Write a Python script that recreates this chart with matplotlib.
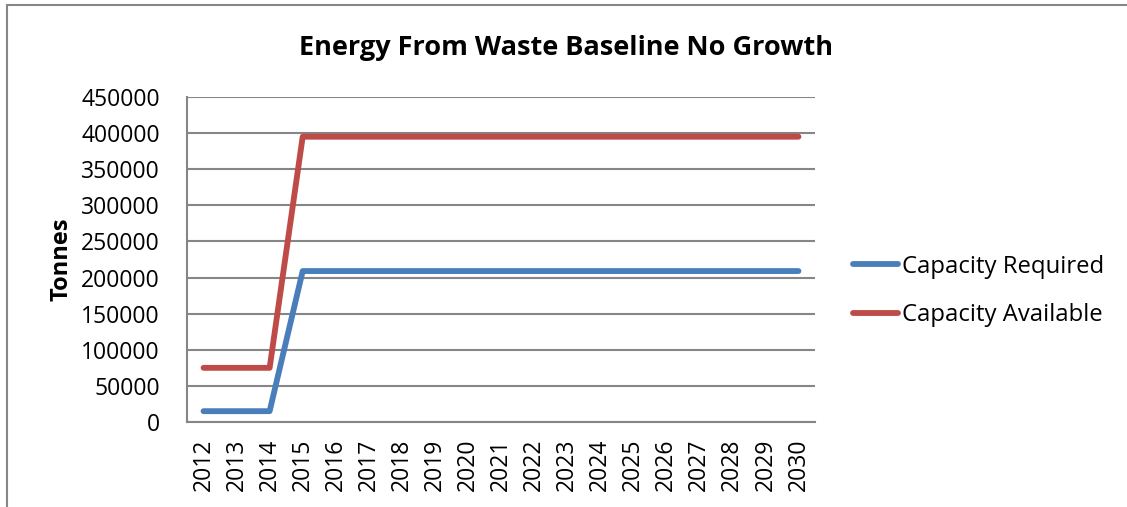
import matplotlib
matplotlib.use("Agg")
import matplotlib.pyplot as plt
from matplotlib.patches import Rectangle
from matplotlib.ticker import MultipleLocator

years = [str(y) for y in range(2012, 2031)]
capacity_required = [15000, 15000, 15000] + [209000] * 16
capacity_available = [75000, 75000, 75000] + [395000] * 16

title = "Energy From Waste Baseline No Growth"
y_label = "Tonnes"
series_names = ["Capacity Required", "Capacity Available"]
colors = ["#4a7ebb", "#be4b48"]

plt.rcParams["font.family"] = ["Open Sans", "DejaVu Sans"]

W, H, DPI = 1127, 507, 100
fig = plt.figure(figsize=(W / DPI, H / DPI), dpi=DPI)

# chart-area frame (runs off the right and bottom edges)
fig.patches.append(Rectangle((7 / W, -0.1), 1.2, 1 - 4.5 / H + 0.1,
                             transform=fig.transFigure, fill=False,
                             edgecolor="#868686", linewidth=1.5))

left, right = 187 / W, 815 / W
bottom, top = 1 - 422 / H, 1 - 97 / H
ax = fig.add_axes([left, bottom, right - left, top - bottom])

x = list(range(len(years)))
for vals, name, c in zip([capacity_required, capacity_available], series_names, colors):
    ax.plot(x, vals, color=c, linewidth=4.2, solid_capstyle="round",
            solid_joinstyle="round", label=name)

ax.set_xlim(-0.5, len(years) - 0.5)
ax.set_ylim(0, 450000)
ax.yaxis.set_major_locator(MultipleLocator(50000))
ax.set_xticks(x)
ax.set_xticklabels(years, rotation=90, fontsize=16.5)
ax.tick_params(axis="y", labelsize=16.5, length=0, pad=19.5)
ax.tick_params(axis="x", length=0, pad=12)
ax.yaxis.grid(True, color="#868686", linewidth=1.5)
ax.set_axisbelow(True)
for s in ["top", "right"]:
    ax.spines[s].set_visible(False)
for s in ["left", "bottom"]:
    ax.spines[s].set_color("#868686")
    ax.spines[s].set_linewidth(1.5)

fig.text(62 / W, 1 - 259 / H, y_label, rotation=90, ha="center", va="center",
         fontsize=17, fontweight="bold")
fig.text(566 / W, 1 - 48 / H, title, ha="center", va="center",
         fontsize=19.5, fontweight="bold")

leg = fig.legend(loc="center left", bbox_to_anchor=(853 / W, 1 - 291 / H),
                 frameon=False, fontsize=17.2, handlelength=1.9,
                 handletextpad=0.15, labelspacing=1.02, borderaxespad=0,
                 borderpad=0)

fig.savefig("out.png", dpi=DPI)
